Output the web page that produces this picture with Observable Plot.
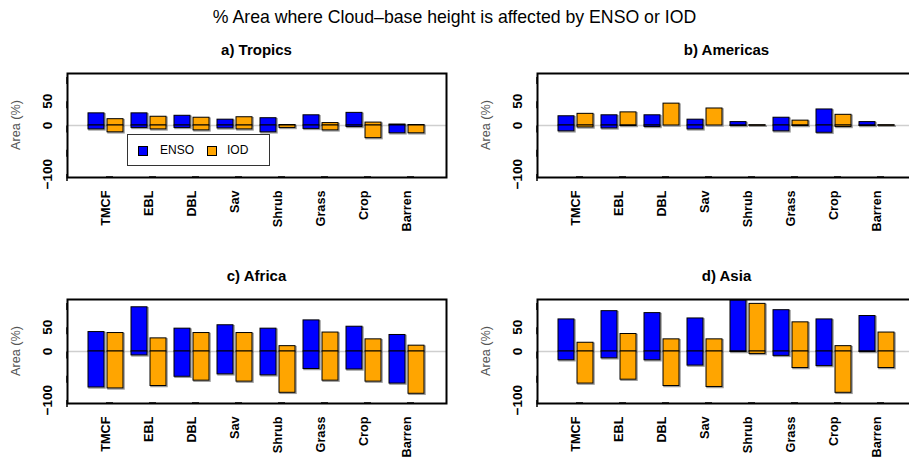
<!DOCTYPE html>
<html>
<head>
<meta charset="utf-8">
<script src="https://cdn.jsdelivr.net/npm/d3@7"></script>
<script src="https://cdn.jsdelivr.net/npm/@observablehq/plot@0.6"></script>
<style>
  html, body { margin: 0; padding: 0; background: #fff; }
  #root { position: relative; width: 909px; height: 459px; overflow: hidden; font-family: "Liberation Sans", Arial, Helvetica, sans-serif; color: #000; }
  .main-title { position: absolute; left: 0; width: 909px; top: 7px; text-align: center; font-size: 17.7px; }
  .ptitle { position: absolute; width: 379px; text-align: center; font-size: 15px; font-weight: bold; }
  .panel { position: absolute; width: 455px; }
  .panel svg { background: transparent !important; overflow: visible; }
  .ylab { position: absolute; width: 80px; height: 16px; line-height: 16px; text-align: center; font-size: 12.7px; color: #555; transform: rotate(-90deg); }
  .legend { position: absolute; left: 127px; top: 134px; width: 141px; height: 30px; border: 1px solid #333; background: #fff; font-size: 12px; }
  .legend .sw { position: absolute; top: 11px; width: 8px; height: 8px; border: 1px solid #000; }
  .legend .lt { position: absolute; top: 8px; line-height: 14px; }
</style>
</head>
<body>
<div id="root">
  <div class="main-title">% Area where Cloud–base height is affected by ENSO or IOD</div>
  <div class="ptitle" style="left:67px; top:41px;">a) Tropics</div>
  <div class="ptitle" style="left:537px; top:41px;">b) Americas</div>
  <div class="ptitle" style="left:67px; top:267px;">c) Africa</div>
  <div class="ptitle" style="left:537px; top:267px;">d) Asia</div>
  <div class="panel" id="pa" style="left:0px; top:40px;"></div>
  <div class="panel" id="pb" style="left:470px; top:40px;"></div>
  <div class="panel" id="pc" style="left:0px; top:266px;"></div>
  <div class="panel" id="pd" style="left:470px; top:266px;"></div>
  <div class="legend" id="legend"></div>
</div>
<script>
// ---- data ----
const categories = ["TMCF", "EBL", "DBL", "Sav", "Shrub", "Grass", "Crop", "Barren"];
const seriesNames = ["ENSO", "IOD"];
const seriesColors = ["#0000ff", "#ffa500"];
const yTicks = [-100, -50, 0, 50, 100];
const yTickLabels = ["−100", "", "0", "50", ""];
const yLabel = "Area (%)";

// Tropics
const tropicsEnsoPos = [25, 25, 20, 12, 15, 21, 26, 2];
const tropicsEnsoNeg = [-8, -5, -5, -6, -14, -7, -3, -16];
const tropicsIodPos  = [13, 18, 16, 17, 1, 5, 6, 1];
const tropicsIodNeg  = [-14, -8, -10, -8, -5, -10, -26, -16];
// Americas
const americasEnsoPos = [19, 21, 21, 12, 7, 16, 33, 7];
const americasEnsoNeg = [-12, -6, -3, -8, -1, -12, -15, -1];
const americasIodPos  = [24, 27, 45, 35, 0.5, 10, 22, 0.5];
const americasIodNeg  = [-4, -1, 0, 0, -0.5, -1, -3, -0.5];
// Africa
const africaEnsoPos = [40, 91, 47, 54, 47, 64, 51, 34];
const africaEnsoNeg = [-74, -8, -52, -47, -49, -36, -37, -66];
const africaIodPos  = [38, 27, 38, 38, 11, 39, 25, 12];
const africaIodNeg  = [-76, -71, -60, -62, -85, -60, -62, -87];
// Asia
const asiaEnsoPos = [66, 83, 79, 68, 105, 85, 66, 73];
const asiaEnsoNeg = [-18, -14, -18, -29, -1, -9, -30, -1];
const asiaIodPos  = [18, 36, 25, 25, 98, 60, 11, 39];
const asiaIodNeg  = [-66, -58, -71, -73, -5, -34, -85, -34];

// ---- drawing ----
const yTickMap = new Map(yTicks.map((t, i) => [t, yTickLabels[i]]));
const FONT = '"Liberation Sans", Arial, Helvetica, sans-serif';

function panel(ensoPos, ensoNeg, iodPos, iodNeg) {
  const rows = categories.map((c, i) => ({cat: c, ep: ensoPos[i], en: ensoNeg[i], ip: iodPos[i], ineg: iodNeg[i]}));
  const W = 455, mL = 67, mR = 9, mT = 33, mB = 75, H = mT + 104 + mB;
  const pIn = 0.18, pOut = 0.403;
  const step = (W - mL - mR) / (categories.length - pIn + 2 * pOut);
  const half = step * (1 - pIn) / 2 + 1;
  const barOpts = (y2, color, side) => ({
    x: "cat", y1: () => 0, y2, fill: color, stroke: "#000", strokeWidth: 1,
    ...(side === "L" ? {insetRight: half} : {insetLeft: half})
  });
  const shadowOpts = (y2, side) => ({
    x: "cat", y1: () => 0, y2, fill: "none", stroke: "#999", strokeWidth: 1.5, dx: 1, dy: 1,
    ...(side === "L" ? {insetRight: half} : {insetLeft: half})
  });
  return Plot.plot({
    width: W, height: H,
    marginLeft: mL, marginRight: mR, marginTop: mT, marginBottom: mB,
    style: {fontFamily: FONT, background: "transparent", overflow: "visible"},
    x: {domain: categories, paddingInner: pIn, paddingOuter: pOut, axis: null},
    y: {domain: [-107, 107], axis: null},
    marks: [
      Plot.ruleY([0], {stroke: "#cfcfcf", strokeWidth: 1.5}),
      Plot.barY(rows, shadowOpts("ep", "L")),
      Plot.barY(rows, shadowOpts("en", "L")),
      Plot.barY(rows, shadowOpts("ip", "R")),
      Plot.barY(rows, shadowOpts("ineg", "R")),
      Plot.barY(rows, barOpts("ep", seriesColors[0], "L")),
      Plot.barY(rows, barOpts("en", seriesColors[0], "L")),
      Plot.barY(rows, barOpts("ip", seriesColors[1], "R")),
      Plot.barY(rows, barOpts("ineg", seriesColors[1], "R")),
      Plot.frame({stroke: "#000", strokeWidth: 2}),
      Plot.axisY({
        ticks: yTicks, tickSize: 7, tickPadding: 9, strokeWidth: 1.5,
        tickFormat: d => yTickMap.get(d), label: null,
        rotate: -90, textAnchor: "middle", lineAnchor: "bottom",
        fontWeight: "bold", fontSize: 13.5, fill: "#000"
      }),
      Plot.axisX({
        tickSize: 7, tickPadding: 6, strokeWidth: 1.5, label: null,
        rotate: -90, textAnchor: "end", lineAnchor: "middle",
        fontWeight: "bold", fontSize: 12.7, fill: "#000"
      })
    ]
  });
}

function addPanel(id, left, top, ep, en, ip, ineg) {
  document.getElementById(id).appendChild(panel(ep, en, ip, ineg));
  const lab = document.createElement("div");
  lab.className = "ylab";
  lab.textContent = yLabel;
  lab.style.left = (left + 15.5 - 40) + "px";
  lab.style.top = (top + 85 - 8) + "px";
  document.getElementById("root").appendChild(lab);
}
addPanel("pa", 0, 40, tropicsEnsoPos, tropicsEnsoNeg, tropicsIodPos, tropicsIodNeg);
addPanel("pb", 470, 40, americasEnsoPos, americasEnsoNeg, americasIodPos, americasIodNeg);
addPanel("pc", 0, 266, africaEnsoPos, africaEnsoNeg, africaIodPos, africaIodNeg);
addPanel("pd", 470, 266, asiaEnsoPos, asiaEnsoNeg, asiaIodPos, asiaIodNeg);

// legend
const leg = document.getElementById("legend");
const legX = [[10, 32], [79, 99]];
seriesNames.forEach((name, i) => {
  const sw = document.createElement("div");
  sw.className = "sw";
  sw.style.left = legX[i][0] + "px";
  sw.style.background = seriesColors[i];
  leg.appendChild(sw);
  const t = document.createElement("div");
  t.className = "lt";
  t.style.left = legX[i][1] + "px";
  t.textContent = name;
  leg.appendChild(t);
});
</script>
</body>
</html>
